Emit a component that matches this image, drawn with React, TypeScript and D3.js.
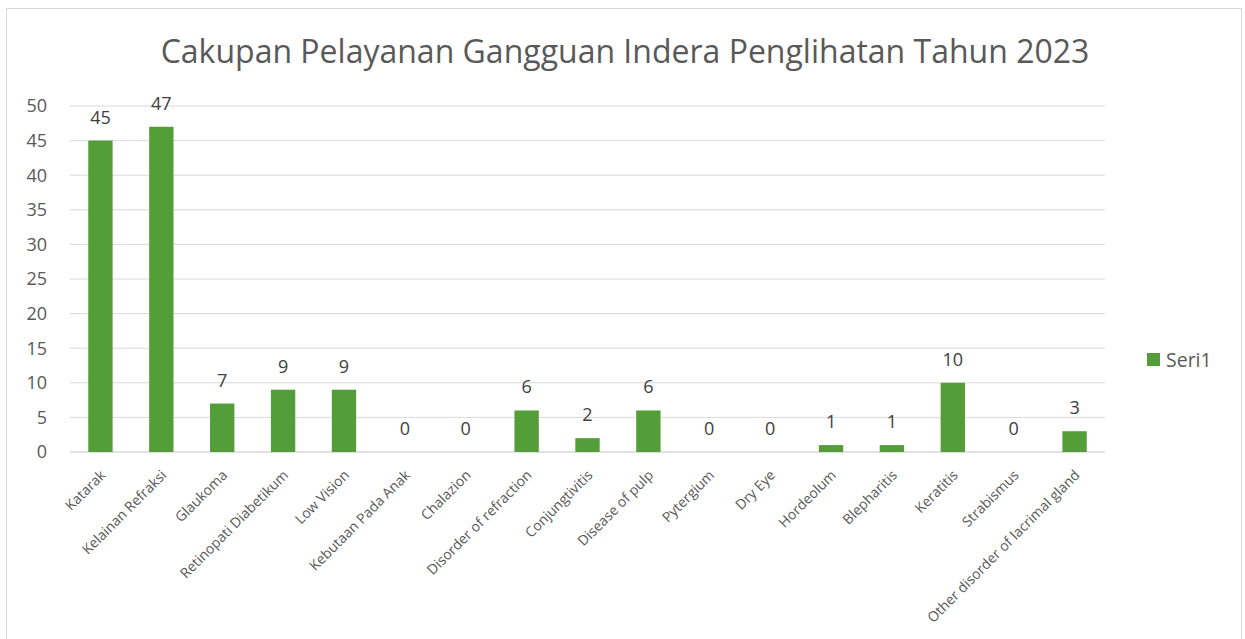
import * as d3 from "d3";

const categories = [
  "Katarak",
  "Kelainan Refraksi",
  "Glaukoma",
  "Retinopati Diabetikum",
  "Low Vision",
  "Kebutaan Pada Anak",
  "Chalazion",
  "Disorder of refraction",
  "Conjungtivitis",
  "Disease of pulp",
  "Pytergium",
  "Dry Eye",
  "Hordeolum",
  "Blepharitis",
  "Keratitis",
  "Strabismus",
  "Other disorder of lacrimal  gland",
];
const seri1 = [45, 47, 7, 9, 9, 0, 0, 6, 2, 6, 0, 0, 1, 1, 10, 0, 3];
const yTicks = [0, 5, 10, 15, 20, 25, 30, 35, 40, 45, 50];

const W = 1245;
const H = 639;
const FONT = "'Open Sans', 'DejaVu Sans', sans-serif";
const GREEN = "#549e39";

export default function App() {
  const plot = { left: 70, right: 1105, top: 106, bottom: 452 };
  const x = d3.scaleBand<string>().domain(categories).range([plot.left, plot.right]).paddingInner(0.6).paddingOuter(0.3);
  const y = d3.scaleLinear().domain([0, 50]).range([plot.bottom, plot.top]);

  return (
    <svg width={W} height={H} style={{ position: "absolute", left: 0, top: 0, background: "#fff" }} fontFamily={FONT}>
      <rect x={6.5} y={8.5} width={1235} height={H} fill="#fff" stroke="#d9d9d9" />
      <text x={625} y={63} textAnchor="middle" fontSize={32} fill="#595959">
        Cakupan Pelayanan Gangguan Indera Penglihatan Tahun 2023
      </text>

      {yTicks.map((t) => (
        <g key={t}>
          <line x1={plot.left} x2={plot.right} y1={y(t)} y2={y(t)} stroke="#d9d9d9" strokeWidth={t === 0 ? 1.5 : 1} />
          <text x={47} y={y(t)} dy="0.35em" textAnchor="end" fontSize={18} fill="#595959">
            {t}
          </text>
        </g>
      ))}

      {categories.map((c, i) => {
        const bx = x(c)!;
        const cx = bx + x.bandwidth() / 2;
        const v = seri1[i];
        return (
          <g key={c}>
            {v > 0 && <rect x={bx} y={y(v)} width={x.bandwidth()} height={y(0) - y(v)} fill={GREEN} />}
            <text x={cx} y={y(v) - 17} textAnchor="middle" fontSize={18} fill="#404040">
              {v}
            </text>
            <text
              transform={`translate(${cx + 6},${plot.bottom + 24}) rotate(-45)`}
              textAnchor="end"
              fontSize={14}
              fill="#595959"
            >
              {c}
            </text>
          </g>
        );
      })}

      <rect x={1147} y={353} width={13} height={13} fill={GREEN} />
      <text x={1166} y={360} dy="0.35em" fontSize={19.5} fill="#595959">
        Seri1
      </text>
    </svg>
  );
}
